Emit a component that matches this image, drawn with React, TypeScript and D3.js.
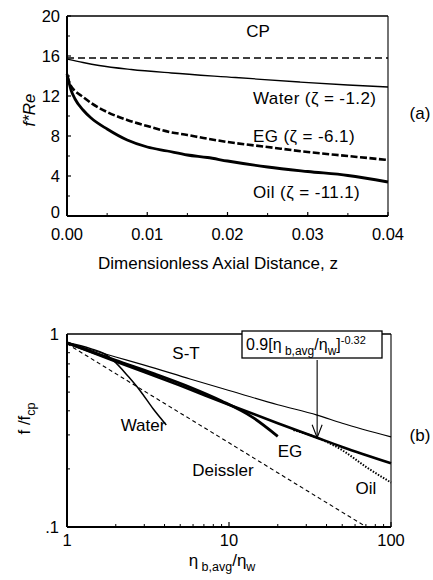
import React from "react";
import * as d3 from "d3";

// ---------- Panel (a) data: f*Re vs z ----------
const cpA: [number, number][] = [[0, 15.8], [0.04, 15.8]];
const waterA: [number, number][] = [
  [0, 15.7], [0.002, 15.35], [0.004, 15.05], [0.008, 14.65], [0.013, 14.3],
  [0.021, 13.85], [0.029, 13.4], [0.035, 13.1], [0.04, 12.9],
];
const egA: [number, number][] = [
  [0, 14.0], [0.0005, 13.0], [0.001, 12.5], [0.002, 11.9], [0.003, 11.3],
  [0.005, 10.4], [0.0075, 9.6], [0.01, 9.0], [0.0128, 8.4], [0.015, 8.1],
  [0.017, 7.8], [0.02, 7.4], [0.025, 6.9], [0.03, 6.4], [0.035, 6.0], [0.04, 5.6],
];
const oilA: [number, number][] = [
  [0, 14.2], [0.0005, 12.6], [0.001, 11.7], [0.002, 10.6], [0.003, 9.8],
  [0.005, 8.7], [0.0075, 7.6], [0.01, 6.9], [0.0125, 6.5], [0.015, 6.1],
  [0.0175, 5.85], [0.02, 5.5], [0.025, 4.9], [0.03, 4.45], [0.035, 4.05], [0.04, 3.4],
];
const xTicksA = [0, 0.01, 0.02, 0.03, 0.04];
const xMinorA = [0.005, 0.015, 0.025, 0.035];
const yTicksA = [0, 4, 8, 12, 16, 20];
const yMinorA = [2, 6, 10, 14, 18];

// ---------- Panel (b) data: f/fcp vs viscosity ratio ----------
const stB: [number, number][] = [
  [1, 0.9], [2, 0.76], [3, 0.69], [5.75, 0.585], [10, 0.51], [20, 0.43],
  [35, 0.38], [50, 0.345], [100, 0.293],
];
const corrB: [number, number][] = [
  [1, 0.9], [2, 0.72], [5, 0.54], [10, 0.43], [20, 0.345], [35, 0.29],
  [50, 0.26], [100, 0.214],
];
const egB: [number, number][] = [
  [1, 0.9], [2, 0.73], [3.5, 0.62], [5.75, 0.53], [9, 0.45], [14, 0.37], [20, 0.295],
];
const waterB: [number, number][] = [
  [1, 0.9], [1.4, 0.84], [1.7, 0.79], [1.93, 0.73], [2.4, 0.6], [2.82, 0.51],
  [3.4, 0.41], [4.1, 0.338],
];
const deisslerB: [number, number][] = [
  [1, 0.89], [3, 0.506], [10, 0.273], [30, 0.155], [72, 0.099],
];
const oilB: [number, number][] = [
  [25, 0.318], [35, 0.29], [50, 0.25], [70, 0.205], [100, 0.17],
];
const xTicksB = [1, 10, 100];
const xTickLabelsB = ["1", "10", "100"];
const yTicksB = [0.1, 1];
const yTickLabelsB = [".1", "1"];

const FONT = "'Liberation Sans', Arial, Helvetica, sans-serif";

export default function App() {
  const xA = d3.scaleLinear().domain([0, 0.04]).range([67, 388]);
  const yA = d3.scaleLinear().domain([0, 20]).range([216, 16]);
  const xB = d3.scaleLog().domain([1, 100]).range([67, 391]);
  const yB = d3.scaleLog().domain([0.1, 1]).range([527, 334]);

  const lineA = d3
    .line<[number, number]>()
    .x((d) => xA(d[0]))
    .y((d) => yA(d[1]))
    .curve(d3.curveMonotoneX);
  const lineB = d3
    .line<[number, number]>()
    .x((d) => xB(d[0]))
    .y((d) => yB(d[1]))
    .curve(d3.curveMonotoneX);

  const minorLogX: number[] = [];
  [1, 10].forEach((dec) => {
    for (let i = 2; i <= 9; i++) minorLogX.push(dec * i);
  });
  const minorLogY: number[] = [];
  for (let i = 2; i <= 9; i++) minorLogY.push(i / 10);

  const [ax0, ax1] = xA.range();
  const [ay0, ay1] = yA.range();
  const [bx0, bx1] = xB.range();
  const [by0, by1] = yB.range();

  const arrowX = xB(35);
  const arrowY = yB(0.29);

  return (
    <svg
      width={433}
      height={580}
      style={{ position: "absolute", left: 0, top: 0, background: "#fff" }}
      fontFamily={FONT}
    >
      <rect x={0} y={0} width={433} height={580} fill="#fff" />
      {/* ================= Panel (a) ================= */}
      <g>
        <line x1={ax0} y1={ay1} x2={ax1} y2={ay1} stroke="#000" strokeWidth={1.3} />
        <line x1={ax1} y1={ay1} x2={ax1} y2={ay0} stroke="#000" strokeWidth={1.1} />
        <line x1={ax0} y1={ay0} x2={ax1} y2={ay0} stroke="#000" strokeWidth={2} />
        <line x1={ax0} y1={ay1} x2={ax0} y2={ay0} stroke="#000" strokeWidth={2} />
        {xTicksA.map((t) => (
          <g key={"xa" + t}>
            <line x1={xA(t)} x2={xA(t)} y1={ay0} y2={ay0 - 4} stroke="#000" strokeWidth={1.2} />
            <text x={xA(t)} y={ay0 + 24} textAnchor="middle" fontSize={16.5}>
              {t.toFixed(2)}
            </text>
          </g>
        ))}
        {xMinorA.map((t) => (
          <line key={"xam" + t} x1={xA(t)} x2={xA(t)} y1={ay0} y2={ay0 - 3} stroke="#000" strokeWidth={1} />
        ))}
        {yTicksA.map((t) => (
          <g key={"ya" + t}>
            <line x1={ax0} x2={ax0 + 4} y1={yA(t)} y2={yA(t)} stroke="#000" strokeWidth={1.2} />
            <text x={ax0 - 7} y={yA(t) + (t === 0 ? 2 : 6)} textAnchor="end" fontSize={16.5}>
              {t}
            </text>
          </g>
        ))}
        {yMinorA.map((t) => (
          <line key={"yam" + t} x1={ax0} x2={ax0 + 3} y1={yA(t)} y2={yA(t)} stroke="#000" strokeWidth={1} />
        ))}
        <path d={lineA(cpA)!} fill="none" stroke="#000" strokeWidth={1.3} strokeDasharray="7,4" />
        <path d={lineA(waterA)!} fill="none" stroke="#000" strokeWidth={1.3} />
        <path d={lineA(egA)!} fill="none" stroke="#000" strokeWidth={2.6} strokeDasharray="7,2.5" />
        <path d={lineA(oilA)!} fill="none" stroke="#000" strokeWidth={2.8} />
        <text x={258} y={37} textAnchor="middle" fontSize={17}>CP</text>
        <text x={253} y={104} fontSize={17} letterSpacing={0.4}>Water (ζ = -1.2)</text>
        <text x={253} y={142} fontSize={17} letterSpacing={0.4}>EG (ζ = -6.1)</text>
        <text x={253} y={198} fontSize={17} letterSpacing={0.4}>Oil (ζ = -11.1)</text>
        <text x={420} y={119} textAnchor="middle" fontSize={17}>(a)</text>
        <text x={218} y={269} textAnchor="middle" fontSize={17}>
          Dimensionless Axial Distance, z
        </text>
        <text
          transform={`translate(35,${(ay0 + ay1) / 2 - 6}) rotate(-90)`}
          textAnchor="middle"
          fontSize={17}
          fontStyle="italic"
        >
          f*Re
        </text>
      </g>

      {/* ================= Panel (b) ================= */}
      <g>
        <line x1={bx0} y1={by1} x2={bx1} y2={by1} stroke="#000" strokeWidth={1.3} />
        <line x1={bx1} y1={by1} x2={bx1} y2={by0} stroke="#000" strokeWidth={1.1} />
        <line x1={bx0} y1={by0} x2={bx1} y2={by0} stroke="#000" strokeWidth={2} />
        <line x1={bx0} y1={by1} x2={bx0} y2={by0} stroke="#000" strokeWidth={2} />
        {minorLogX.map((t) => (
          <line key={"xbm" + t} x1={xB(t)} x2={xB(t)} y1={by0} y2={by0 - 3} stroke="#000" strokeWidth={1} />
        ))}
        {xTicksB.map((t, i) => (
          <g key={"xb" + t}>
            <line x1={xB(t)} x2={xB(t)} y1={by0} y2={by0 - 5} stroke="#000" strokeWidth={1.2} />
            <text x={xB(t)} y={by0 + 19} textAnchor="middle" fontSize={16.5}>
              {xTickLabelsB[i]}
            </text>
          </g>
        ))}
        {minorLogY.map((t) => (
          <line key={"ybm" + t} x1={bx0} x2={bx0 + 3} y1={yB(t)} y2={yB(t)} stroke="#000" strokeWidth={1} />
        ))}
        {yTicksB.map((t, i) => (
          <text key={"yb" + t} x={bx0 - 8} y={yB(t) + 6} textAnchor="end" fontSize={16.5}>
            {yTickLabelsB[i]}
          </text>
        ))}
        <path d={lineB(deisslerB)!} fill="none" stroke="#000" strokeWidth={1.1} strokeDasharray="4,3" />
        <path d={lineB(stB)!} fill="none" stroke="#000" strokeWidth={1.1} />
        <path d={lineB(waterB)!} fill="none" stroke="#000" strokeWidth={1.5} />
        <path d={lineB(egB)!} fill="none" stroke="#000" strokeWidth={2.8} />
        <path d={lineB(corrB)!} fill="none" stroke="#000" strokeWidth={2.6} />
        <path d={lineB(oilB)!} fill="none" stroke="#000" strokeWidth={2} strokeDasharray="1.5,1.5" />
        <text x={186} y={359} textAnchor="middle" fontSize={17}>S-T</text>
        <text x={143} y={431} textAnchor="middle" fontSize={17}>Water</text>
        <text x={290} y={457} textAnchor="middle" fontSize={17}>EG</text>
        <text x={223} y={476} textAnchor="middle" fontSize={17}>Deissler</text>
        <text x={366} y={494} textAnchor="middle" fontSize={17}>Oil</text>
        <text x={420} y={441} textAnchor="middle" fontSize={17}>(b)</text>
        <rect x={242} y={331} width={140} height={27} fill="#fff" stroke="#000" strokeWidth={1.3} />
        <text x={246} y={350} fontSize={16}>
          0.9[η
          <tspan fontSize={12} dy={5}> b,avg</tspan>
          <tspan dy={-5}>/η</tspan>
          <tspan fontSize={12} dy={5}>w</tspan>
          <tspan dy={-5}>]</tspan>
          <tspan fontSize={11} dy={-6}>-0.32</tspan>
        </text>
        <line x1={arrowX} y1={360} x2={arrowX} y2={arrowY} stroke="#000" strokeWidth={1.1} />
        <polyline
          points={`${arrowX - 5},${arrowY - 13} ${arrowX},${arrowY} ${arrowX + 5},${arrowY - 13}`}
          fill="none"
          stroke="#000"
          strokeWidth={1.1}
        />
        <text x={222} y={566} textAnchor="middle" fontSize={17}>
          η<tspan fontSize={12.5} dy={5}> b,avg</tspan>
          <tspan dy={-5}>/η</tspan>
          <tspan fontSize={12.5} dy={5}>w</tspan>
        </text>
        <text
          transform={`translate(30,${(by0 + by1) / 2 - 12}) rotate(-90)`}
          textAnchor="middle"
          fontSize={17}
        >
          f /f<tspan fontSize={12.5} dy={5}>cp</tspan>
        </text>
      </g>
    </svg>
  );
}
